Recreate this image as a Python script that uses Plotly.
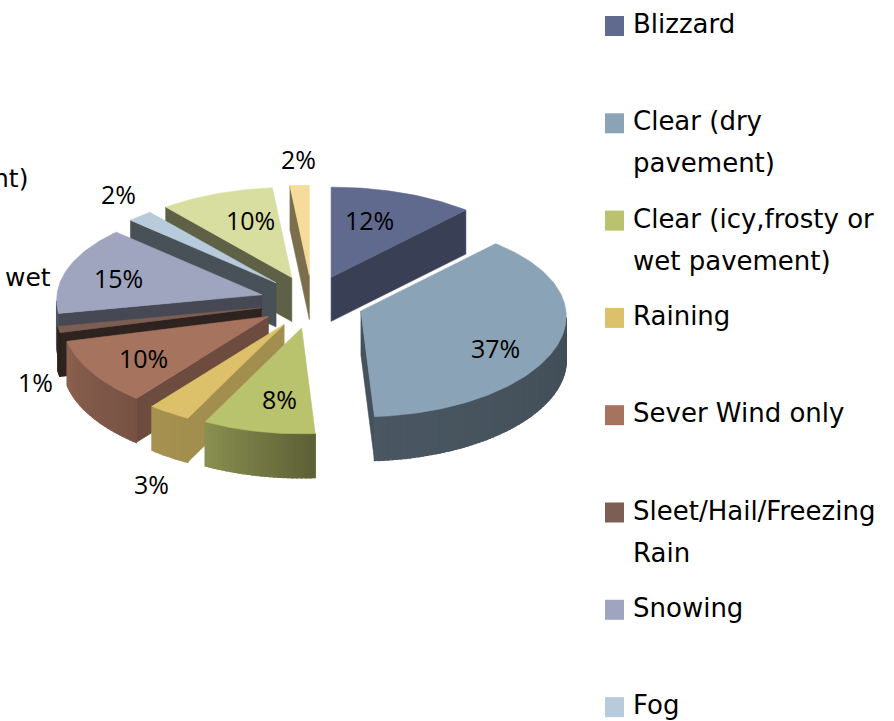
import math
import plotly.graph_objects as go

# ---- data ----
categories = ["Blizzard", "Clear (dry<br>pavement)", "Clear (icy,frosty or<br>wet pavement)", "Raining",
              "Sever Wind only", "Sleet/Hail/Freezing<br>Rain", "Snowing", "Fog"]
extra_categories = ["Other 1", "Other 2"]  # entries whose legend lies below the visible picture
values = [12, 37, 8.4, 3.2, 10.4, 1, 14.8, 2.1, 9.5, 1.6]
colors = ["#5f6a8e", "#8aa3b7", "#b9c26c", "#dcc06a", "#a6735f", "#7d5e54", "#a0a5bf", "#b8cbdc", "#d8dea0", "#f5dc9b"]

# ---- styling of the 3-D look ----
wall_shade = [0.60, 0.50, 0.50, 0.74, 0.66, 0.38, 0.44, 0.40, 0.44, 0.50]
rim_shade = [(0.55, 0.55), (0.44, 0.54), (0.50, 0.74), (0.74, 0.76), (0.72, 0.84), (0.34, 0.38), (0.50, 0.50), (0.5, 0.5), (0.5, 0.5), (0.5, 0.5)]
paint_order = [8, 0, 9, 7, 6, 1, 5, 4, 3, 2]
label_xy = [(369, 220), (495, 348), (279, 399), (151, 484), (143, 358), (35, 382), (118, 278), (118, 194), (250, 220), (298, 159)]
CX, CY, PULL, PULL_SQUASH = 312, 302, 52, 0.51
RX, RY, KX, KY, DEPTH = 205, 98, 0.055, 0.08, 44


def shade(hex_color, f):
    r, g, b = (int(hex_color[i:i + 2], 16) for i in (1, 3, 5))
    return f"rgb({int(r * f)},{int(g * f)},{int(b * f)})"


def poly(pts, color, name=None, width=0.6):
    return go.Scatter(x=[p[0] for p in pts] + [pts[0][0]], y=[p[1] for p in pts] + [pts[0][1]],
                      mode="lines", fill="toself", fillcolor=color,
                      line=dict(color=color, width=width), hoverinfo="skip" if name is None else "name",
                      name=name or "", showlegend=False)


total = sum(values)
fig = go.Figure()
cum = 0
slices = []
for v in values:
    a0 = 2 * math.pi * cum / total
    a1 = 2 * math.pi * (cum + v) / total
    cum += v
    mid = (a0 + a1) / 2
    ax = CX + PULL * math.sin(mid)
    ay = CY - PULL * PULL_SQUASH * math.cos(mid)
    slices.append((a0, a1, ax, ay))


def rim_point(ax, ay, a):
    u, w = math.sin(a), -math.cos(a)
    return (ax + RX * u * (1 + KX * w), ay + RY * w * (1 + KY * w))


names = [c.replace("<br>", " ") for c in categories] + extra_categories
for i in paint_order:
    a0, a1, ax, ay = slices[i]
    n = max(4, int((a1 - a0) / math.radians(1.2)))
    angles = [a0 + (a1 - a0) * k / n for k in range(n + 1)]
    rim = [rim_point(ax, ay, a) for a in angles]
    top = [(ax, ay)] + rim
    wall_color = shade(colors[i], wall_shade[i])
    # radial walls that face the viewer
    for p, q in ((top[0], rim[0]), (rim[-1], top[0])):
        if q[0] - p[0] < -0.01:
            fig.add_trace(poly([p, q, (q[0], q[1] + DEPTH), (p[0], p[1] + DEPTH)], wall_color))
    # outer rim, shaded in steps
    for k in range(n):
        p, q = rim[k], rim[k + 1]
        if q[0] - p[0] < -0.01:
            t = k / max(1, n - 1)
            f = rim_shade[i][0] + (rim_shade[i][1] - rim_shade[i][0]) * t
            fig.add_trace(poly([p, q, (q[0], q[1] + DEPTH), (p[0], p[1] + DEPTH)], shade(colors[i], f), width=1.4))
    fig.add_trace(poly(top, colors[i], names[i]))

annotations = []
for v, (lx, ly) in zip(values, label_xy):
    annotations.append(dict(x=lx, y=ly, text=f"{round(v)}%", showarrow=False,
                            font=dict(family="Open Sans", size=25, color="#000000")))
# cropped category labels at the left edge
annotations.append(dict(x=30, y=178, text="nt)", xanchor="right", showarrow=False,
                        font=dict(family="DejaVu Sans", size=25, color="#000000")))
annotations.append(dict(x=53, y=277, text="wet", xanchor="right", showarrow=False,
                        font=dict(family="DejaVu Sans", size=25, color="#000000")))

shapes = []
for i, cat in enumerate(categories):
    y0 = 24 + 97.3 * i
    shapes.append(dict(type="rect", x0=605, x1=624, y0=y0 - 8, y1=y0 + 12, fillcolor=colors[i], line_width=0))
    for j, line in enumerate(cat.split("<br>")):
        annotations.append(dict(x=631, y=y0 + 42 * j, text=line, xanchor="left", showarrow=False,
                                font=dict(family="DejaVu Sans", size=26, color="#000000")))

fig.update_layout(width=894, height=721, margin=dict(l=0, r=0, t=0, b=0), showlegend=False,
                  paper_bgcolor="#ffffff", plot_bgcolor="#ffffff",
                  xaxis=dict(range=[0, 894], visible=False),
                  yaxis=dict(range=[721, 0], visible=False),
                  annotations=annotations, shapes=shapes)
fig.write_html("out.html", post_script="document.body.style.margin='0';", config=dict(displayModeBar=False))
